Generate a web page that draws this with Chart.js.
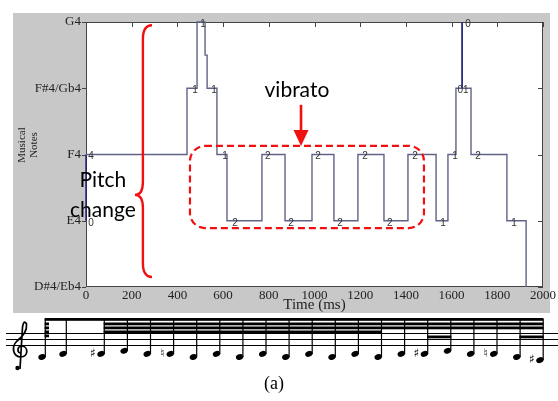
<!DOCTYPE html>
<html>
<head>
<meta charset="utf-8">
<script src="https://cdn.jsdelivr.net/npm/chart.js@4.4.0/dist/chart.umd.min.js"></script>
<style>
  html, body { margin: 0; padding: 0; background: #fff; }
  #wrap { width: 558px; height: 401px; position: relative; }
</style>
</head>
<body>
<div id="wrap"><canvas id="pitchChart" width="558" height="401"></canvas></div>
<script>
/* ── DATA ── */
const noteNames = ['D#4/Eb4', 'E4', 'F4', 'F#4/Gb4', 'G4'];
const timeTicks = [0, 200, 400, 600, 800, 1000, 1200, 1400, 1600, 1800, 2000];

// pitch trace: time (ms) of each change and the note index it moves to
const changeTimes = [0, 0, 442, 486, 521, 530, 573, 617, 770, 871, 989, 1085, 1190, 1304, 1409, 1532, 1584, 1619, 1646, 1646, 1685, 1842, 1926];
const changeNotes = [1, 2, 3, 4, 3.5, 3, 2, 1, 2, 1, 2, 1, 2, 1, 2, 1, 2, 3, 4, 3, 2, 1, 0];
const darkSegments = [0, 18];   // segments drawn in dark blue

// small numbers printed along the trace
const markTimes = [22, 22, 477, 512, 560, 608, 652, 796, 897, 1015, 1112, 1221, 1330, 1440, 1562, 1615, 1650, 1672, 1716, 1873];
const markNotes = [2, 1, 3, 4, 3, 2, 1, 2, 1, 2, 1, 2, 1, 2, 1, 2, 3, 4, 2, 1];
const markTexts = ['4', '0', '1', '1', '1', '1', '2', '2', '2', '2', '2', '2', '2', '2', '1', '1', '01', '0', '2', '1'];

// transcription under the plot
const scorePitches = ['E4','F4','F4','G4','F4','F4','E4','F4','E4','F4','E4','F4','E4','F4','E4','F4','F4','G4','F4','F4','E4','D4'];
const scoreAccid   = ['',  '',  '#', '',  '',  'n', '',  '',  '',  '',  '',  '',  '',  '',  '',  '',  '#', '',  '',  'n', '',  '#'];

/* ── helpers ── */
const RED = '#f01010';

const framePlugin = {
  id: 'frame',
  beforeDraw(chart) {
    const { ctx, chartArea: a } = chart;
    ctx.save();
    ctx.fillStyle = '#fff';
    ctx.fillRect(0, 0, chart.width, chart.height);
    ctx.fillStyle = '#c8c8c8';
    ctx.fillRect(13, 13, 537, 300);
    ctx.fillStyle = '#fff';
    ctx.fillRect(a.left, a.top, a.right - a.left, a.bottom - a.top);
    ctx.restore();
  },
  beforeDatasetsDraw(chart) {
    const { ctx, chartArea: a, scales: { x, y } } = chart;
    ctx.save();
    // box + ticks
    ctx.strokeStyle = '#444';
    ctx.lineWidth = 1;
    ctx.strokeRect(a.left + 0.5, a.top + 0.5, a.right - a.left - 1, a.bottom - a.top - 1);
    ctx.beginPath();
    noteNames.forEach((n, i) => {
      const py = Math.round(y.getPixelForValue(i)) + 0.5;
      ctx.moveTo(a.left - 4, py); ctx.lineTo(a.left, py);
      ctx.moveTo(a.right - 5, py); ctx.lineTo(a.right, py);
    });
    timeTicks.forEach(t => {
      const px = Math.round(x.getPixelForValue(t)) + 0.5;
      ctx.moveTo(px, a.top); ctx.lineTo(px, a.top + 5);
    });
    ctx.stroke();

    // y title
    ctx.fillStyle = '#222';
    ctx.font = '11px "Liberation Serif"';
    ctx.textAlign = 'center';
    ctx.textBaseline = 'middle';
    [['Musical', 22], ['Notes', 34]].forEach(([s, cx]) => {
      ctx.save();
      ctx.translate(cx, 145);
      ctx.rotate(-Math.PI / 2);
      ctx.fillText(s, 0, 0);
      ctx.restore();
    });
    ctx.restore();
  },
  afterDatasetsDraw(chart) {
    const { ctx, scales: { x, y } } = chart;
    ctx.save();
    // numbers along the trace
    ctx.fillStyle = '#333';
    ctx.font = '10px "Liberation Sans"';
    ctx.textAlign = 'center';
    ctx.textBaseline = 'middle';
    markTexts.forEach((s, i) => {
      ctx.fillText(s, x.getPixelForValue(markTimes[i]), y.getPixelForValue(markNotes[i]) + 2);
    });
    ctx.restore();
  },
  afterDraw(chart) {
    const { ctx, scales: { x, y } } = chart;
    const px = t => x.getPixelForValue(t);
    const py = v => y.getPixelForValue(v);
    ctx.save();

    // vibrato box
    ctx.strokeStyle = RED;
    ctx.lineWidth = 2.2;
    ctx.setLineDash([7, 4]);
    ctx.beginPath();
    ctx.roundRect(px(455), py(2.13), px(1479) - px(455), py(0.89) - py(2.13), 15);
    ctx.stroke();
    ctx.setLineDash([]);

    // brace
    const bx = px(249), hx = px(289), cx = px(214);
    const yt = py(3.95), yc = py(1.39), yb = py(0.15);
    ctx.lineWidth = 2.4;
    ctx.beginPath();
    ctx.moveTo(hx, yt);
    ctx.quadraticCurveTo(bx, yt, bx, yt + 14);
    ctx.lineTo(bx, yc - 13);
    ctx.quadraticCurveTo(bx, yc, cx, yc);
    ctx.quadraticCurveTo(bx, yc, bx, yc + 13);
    ctx.lineTo(bx, yb - 14);
    ctx.quadraticCurveTo(bx, yb, hx, yb);
    ctx.stroke();

    // arrow
    const ax = px(941), a0 = py(2.75), a1 = py(2.13);
    ctx.lineWidth = 2.6;
    ctx.beginPath();
    ctx.moveTo(ax, a0); ctx.lineTo(ax, a1 - 12);
    ctx.stroke();
    ctx.fillStyle = RED;
    ctx.beginPath();
    ctx.moveTo(ax - 7.5, a1 - 16); ctx.lineTo(ax + 7.5, a1 - 16); ctx.lineTo(ax, a1);
    ctx.closePath();
    ctx.fill();

    // annotation text
    ctx.fillStyle = '#000';
    ctx.font = '21px Lato';
    ctx.textAlign = 'center';
    ctx.textBaseline = 'alphabetic';
    ctx.fillText('vibrato', px(923), py(2.87));
    ctx.fillText('Pitch', px(74), py(1.51));
    ctx.fillText('change', px(74), py(1.06));

    drawScore(ctx);
    ctx.restore();
  }
};

function drawScore(ctx) {
  const stepOf = { D4: -1, E4: 0, F4: 1, G4: 2 };
  const headY = p => 357 - stepOf[p] * 3.1;
  const noteX = i => (i < 2 ? 42 + 21 * i : 101 + 23.1 * (i - 2));
  const lastStem = noteX(scorePitches.length - 1) + 3;

  ctx.save();
  ctx.strokeStyle = '#000';
  ctx.fillStyle = '#000';

  // staff
  ctx.lineWidth = 1;
  ctx.beginPath();
  [333, 339, 345].forEach(sy => { ctx.moveTo(6, sy + 0.5); ctx.lineTo(558, sy + 0.5); });
  ctx.stroke();

  // clef
  ctx.lineWidth = 1.7;
  ctx.beginPath();
  ctx.moveTo(20, 369);
  ctx.lineTo(22.5, 327);
  ctx.quadraticCurveTo(24, 319, 26.5, 324);
  ctx.quadraticCurveTo(27.5, 333, 17, 341);
  ctx.bezierCurveTo(11, 347, 13, 357, 21, 357);
  ctx.bezierCurveTo(28, 357, 29, 347, 22, 346);
  ctx.bezierCurveTo(17, 346, 17, 352, 20, 353);
  ctx.stroke();
  ctx.beginPath();
  ctx.arc(17.5, 368, 2.2, 0, Math.PI * 2);
  ctx.fill();

  // heads, stems, accidentals
  ctx.font = '12px "DejaVu Sans"';
  ctx.textAlign = 'center';
  ctx.textBaseline = 'middle';
  scorePitches.forEach((p, i) => {
    const nx = noteX(i), ny = headY(p);
    ctx.beginPath();
    ctx.ellipse(nx, ny, 3.8, 2.8, -0.35, 0, Math.PI * 2);
    ctx.fill();
    ctx.lineWidth = 1.2;
    ctx.beginPath();
    ctx.moveTo(nx + 3.3, ny); ctx.lineTo(nx + 3.3, 319);
    ctx.stroke();
    if (scoreAccid[i]) {
      ctx.fillText(scoreAccid[i] === '#' ? '\u266F' : '\u266E', nx - 8, ny);
    }
  });

  // beams
  const beam = (x0, x1, by) => ctx.fillRect(x0, by, x1 - x0, 2.8);
  beam(noteX(0) + 2.6, lastStem + 0.6, 318);
  beam(noteX(2) + 2.6, lastStem + 0.6, 322.5);
  beam(noteX(2) + 2.6, lastStem + 0.6, 326.5);
  beam(noteX(2) + 2.6, noteX(14) + 3.8, 330.5);
  beam(noteX(16) + 2.6, noteX(17) + 3.8, 335.5);
  beam(noteX(20) + 2.6, lastStem + 0.6, 335.5);
  for (let k = 0; k < 4; k++) beam(noteX(0) + 2.6, noteX(0) + 7, 322.5 + k * 4);

  // caption
  ctx.font = '18px "Liberation Serif"';
  ctx.textBaseline = 'middle';
  ctx.fillText('(a)', 274, 384);
  ctx.restore();
}

/* ── CHART ── */
const stepPoints = changeTimes.map((t, i) => ({ x: t, y: changeNotes[i] }));
const serif = { family: '"Liberation Serif", "Times New Roman", serif', size: 13 };

new Chart(document.getElementById('pitchChart'), {
  type: 'line',
  data: {
    datasets: [{
      data: stepPoints,
      stepped: 'before',
      borderColor: '#5f6387',
      borderWidth: 1.4,
      pointRadius: 0,
      fill: false,
      clip: 4,
      segment: {
        borderColor: c => (darkSegments.includes(c.p0DataIndex) ? '#1a1a80' : undefined),
      },
    }],
  },
  options: {
    responsive: false,
    animation: false,
    devicePixelRatio: 1,
    layout: { padding: { left: 0, right: 15, top: 22, bottom: 89 } },
    plugins: { legend: { display: false }, tooltip: { enabled: false } },
    scales: {
      x: {
        type: 'linear', min: 0, max: 2000,
        afterBuildTicks: s => { s.ticks = timeTicks.map(v => ({ value: v })); },
        grid: { display: false, drawTicks: false }, border: { display: false },
        ticks: { font: serif, color: '#222', padding: 1, maxRotation: 0, autoSkip: false, callback: v => String(v) },
        title: { display: true, text: 'Time (ms)', font: { ...serif, size: 15 }, color: '#222', padding: { top: 0, bottom: -2 } },
        afterFit: s => { s.height = 25; },
      },
      y: {
        type: 'linear', min: 0, max: 4,
        afterBuildTicks: s => { s.ticks = noteNames.map((n, i) => ({ value: i })); },
        grid: { display: false, drawTicks: false }, border: { display: false },
        ticks: { font: serif, color: '#222', padding: 5, callback: v => noteNames[v] },
        afterFit: s => { s.width = 86; },
      },
    },
  },
  plugins: [framePlugin],
});
</script>
</body>
</html>
